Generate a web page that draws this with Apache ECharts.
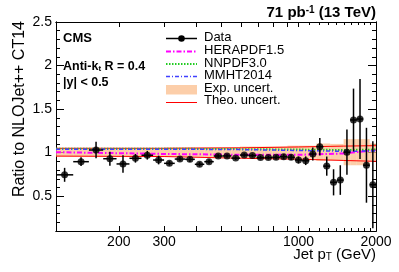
<!DOCTYPE html>
<html><head><meta charset="utf-8">
<script src="https://cdn.jsdelivr.net/npm/echarts@6/dist/echarts.min.js"></script>
<style>html,body{margin:0;padding:0;background:#fff}#c{width:399px;height:272px}</style>
</head><body><div id="c"></div>
<script>
// ---- data ----
const binEdges = [114,133,153,174,196,220,245,272,300,330,362,395,430,468,507,548,592,638,686,737,790,846,905,967,1032,1101,1172,1248,1327,1410,1497,1588,1684,1784,1890,2000];
const dataRatio = [0.745,0.896,1.03,0.93,0.87,0.935,0.97,0.915,0.877,0.926,0.923,0.866,0.896,0.961,0.962,0.937,0.972,0.966,0.943,0.943,0.946,0.953,0.946,0.915,0.907,0.984,1.068,0.845,0.659,0.685,1.005,1.375,1.386,0.855,0.632];
const dataErr = [0.08,0.05,0.095,0.08,0.1,0.05,0.05,0.05,0.025,0.025,0.03,0.025,0.025,0.02,0.02,0.02,0.02,0.02,0.02,0.02,0.025,0.03,0.03,0.04,0.05,0.075,0.1,0.11,0.15,0.17,0.26,0.36,0.46,0.43,0.5];
const expErr = [0.05,0.05,0.05,0.05,0.05,0.05,0.05,0.05,0.055,0.055,0.055,0.055,0.055,0.055,0.055,0.055,0.065,0.065,0.065,0.065,0.065,0.065,0.075,0.075,0.075,0.075,0.1,0.1,0.095,0.095,0.15,0.15,0.15,0.15,0.1];
const curvePt = [114,300,600,1000,1500,2000];
const herapdf = [1.005,0.985,0.975,0.975,0.99,1.03];
const nnpdf = [1.045,1.045,1.04,1.035,1.03,1.035];
const mmht = [1.04,1.04,1.035,1.025,1.015,1.02];
const theoUp = [1.05,1.05,1.055,1.065,1.075,1.08];
const theoDn = [0.96,0.955,0.935,0.925,0.91,0.9];
const xLabelVals = [200,300,1000,2000];
const xMajorTicks = [200,300,400,500,600,700,800,900,1000,2000];
const xMinorTicks = [1100,1200,1300,1400,1500,1600,1700,1800,1900];
const yLabelVals = [0.5,1,1.5,2,2.5];
const yMinorTicks = [0.1,0.2,0.3,0.4,0.6,0.7,0.8,0.9,1.1,1.2,1.3,1.4,1.6,1.7,1.8,1.9,2.1,2.2,2.3,2.4];

// ---- build ----
const FONT = 'Liberation Sans, Arial, Helvetica, sans-serif';
const centers = binEdges.slice(0,-1).map((e,i)=>Math.sqrt(e*binEdges[i+1]));
const bandData = expErr.map((e,i)=>[binEdges[i],binEdges[i+1],1-e+0.005,1+e+0.005]);
const errData = dataRatio.map((v,i)=>[centers[i],v,dataErr[i],binEdges[i],binEdges[i+1]]);
const ptsData = dataRatio.map((v,i)=>[centers[i],v]);
const zip = arr => curvePt.map((p,i)=>[p,arr[i]]);

function xAxisDef(pos, ticks, len, labels){
  return {type:'log', min:114, max:2000, position:pos, gridIndex:0,
    axisLine:{show:true,onZero:false,lineStyle:{color:'#000',width:1}},
    axisTick:{show:true,inside:true,length:len,customValues:ticks,lineStyle:{color:'#000',width:1}},
    axisLabel:labels?{show:true,customValues:xLabelVals,fontSize:14,color:'#000',fontFamily:FONT,margin:4,
      formatter:v=>String(Math.round(v))}:{show:false},
    splitLine:{show:false}, minorTick:{show:false}};
}
function yAxisDef(pos, ticks, len, labels){
  return {type:'value', min:0.1, max:2.5, position:pos, gridIndex:0,
    axisLine:{show:true,onZero:false,lineStyle:{color:'#000',width:1}},
    axisTick:{show:true,inside:true,length:len,customValues:ticks,lineStyle:{color:'#000',width:1}},
    axisLabel:labels?{show:true,customValues:yLabelVals,fontSize:14,color:'#000',fontFamily:FONT,margin:4}:{show:false},
    splitLine:{show:false}};
}

const chart = echarts.init(document.getElementById('c'), null, {renderer:'canvas'});
const legX0 = 166, legX1 = 197, legTx = 204;
chart.setOption({
  animation:false,
  backgroundColor:'#fff',
  grid:{left:56,right:23,top:22,bottom:41,containLabel:false},
  xAxis:[xAxisDef('bottom',xMajorTicks,5,true), xAxisDef('bottom',xMinorTicks,3,false),
         xAxisDef('top',xMajorTicks,5,false), xAxisDef('top',xMinorTicks,3,false)],
  yAxis:[yAxisDef('left',yLabelVals,8,true), yAxisDef('left',yMinorTicks,4,false),
         yAxisDef('right',yLabelVals,8,false), yAxisDef('right',yMinorTicks,4,false)],
  series:[
    {type:'custom', name:'Exp. uncert.', z:1, data:bandData, encode:{x:[0,1],y:[2,3]},
      renderItem(params, api){
        const p1 = api.coord([api.value(0), api.value(3)]);
        const p2 = api.coord([api.value(1), api.value(2)]);
        return {type:'rect', shape:{x:p1[0],y:p1[1],width:p2[0]-p1[0],height:p2[1]-p1[1]},
          style:{fill:'rgba(251,190,140,0.75)'}};
      }},
    {type:'line', name:'Theo up', z:2, data:zip(theoUp), showSymbol:false, lineStyle:{color:'#ff0000',width:1}},
    {type:'line', name:'Theo dn', z:2, data:zip(theoDn), showSymbol:false, lineStyle:{color:'#ff0000',width:1}},
    {type:'line', name:'HERAPDF1.5', z:3, data:zip(herapdf), showSymbol:false, lineStyle:{color:'#ff00ff',width:2,type:[5,2,1.5,2]}},
    {type:'line', name:'NNPDF3.0', z:3, data:zip(nnpdf), showSymbol:false, lineStyle:{color:'#22cc22',width:2,type:[1.5,1.5]}},
    {type:'line', name:'MMHT2014', z:3, data:zip(mmht), showSymbol:false, lineStyle:{color:'#4040ff',width:1.5,type:[4,2,1,2]}},
    {type:'custom', name:'Data err', z:4, data:errData, encode:{x:0,y:1},
      renderItem(params, api){
        const x = api.value(0), y = api.value(1), e = api.value(2);
        const a = api.coord([x, y-e]), b = api.coord([x, y+e]);
        const l = api.coord([api.value(3), y]), r = api.coord([api.value(4), y]);
        const st = {stroke:'#000', lineWidth:1.5};
        return {type:'group', children:[
          {type:'line', shape:{x1:a[0],y1:a[1],x2:b[0],y2:b[1]}, style:st},
          {type:'line', shape:{x1:l[0],y1:l[1],x2:r[0],y2:r[1]}, style:st}
        ]};
      }},
    {type:'scatter', name:'Data', z:5, data:ptsData, symbol:'circle', symbolSize:7, itemStyle:{color:'#000'}}
  ],
  graphic:[
    {type:'text', x:376, y:13, style:{text:'{b|71 pb}{s|-1}{b| (13 TeV)}', align:'right', verticalAlign:'middle',
      rich:{b:{fontSize:15,fontWeight:'bold',fontFamily:FONT,fill:'#000',verticalAlign:'bottom'}, s:{fontSize:10,fontWeight:'bold',fontFamily:FONT,fill:'#000',verticalAlign:'top'}}}},
    {type:'text', x:63, y:38.5, style:{text:'CMS', font:'bold 13px '+FONT, fill:'#000', verticalAlign:'middle'}},
    {type:'text', x:63, y:66.5, style:{text:'{b|Anti-k}{s|t}{b| R = 0.4}', verticalAlign:'middle',
      rich:{b:{fontSize:12.5,fontWeight:'bold',fontFamily:FONT,fill:'#000',verticalAlign:'top'}, s:{fontSize:8,fontWeight:'bold',fontFamily:FONT,fill:'#000',verticalAlign:'bottom'}}}},
    {type:'text', x:63, y:83, style:{text:'|y| < 0.5', font:'bold 12.5px '+FONT, fill:'#000', verticalAlign:'middle'}},
    // legend
    {type:'line', shape:{x1:legX0,y1:38.5,x2:legX1,y2:38.5}, style:{stroke:'#000',lineWidth:1.5}},
    {type:'circle', shape:{cx:(legX0+legX1)/2,cy:38.5,r:3.3}, style:{fill:'#000'}},
    {type:'text', x:legTx, y:37, style:{text:'Data', font:'13px '+FONT, fill:'#000', verticalAlign:'middle'}},
    {type:'line', shape:{x1:legX0,y1:51.5,x2:legX1,y2:51.5}, style:{stroke:'#ff00ff',lineWidth:2,lineDash:[5,2,1.5,2]}},
    {type:'text', x:legTx, y:50, style:{text:'HERAPDF1.5', font:'13px '+FONT, fill:'#000', verticalAlign:'middle'}},
    {type:'line', shape:{x1:legX0,y1:64,x2:legX1,y2:64}, style:{stroke:'#22cc22',lineWidth:2,lineDash:[1.5,1.5]}},
    {type:'text', x:legTx, y:63, style:{text:'NNPDF3.0', font:'13px '+FONT, fill:'#000', verticalAlign:'middle'}},
    {type:'line', shape:{x1:legX0,y1:76.5,x2:legX1,y2:76.5}, style:{stroke:'#4040ff',lineWidth:1.5,lineDash:[4,2,1,2]}},
    {type:'text', x:legTx, y:75, style:{text:'MMHT2014', font:'13px '+FONT, fill:'#000', verticalAlign:'middle'}},
    {type:'rect', shape:{x:legX0,y:85,width:legX1-legX0,height:9.5}, style:{fill:'rgba(251,190,140,0.75)'}},
    {type:'text', x:legTx, y:88.5, style:{text:'Exp. uncert.', font:'13px '+FONT, fill:'#000', verticalAlign:'middle'}},
    {type:'line', shape:{x1:legX0,y1:102.5,x2:legX1,y2:102.5}, style:{stroke:'#ff0000',lineWidth:1}},
    {type:'text', x:legTx, y:100.5, style:{text:'Theo. uncert.', font:'13px '+FONT, fill:'#000', verticalAlign:'middle'}},
    // axis titles
    {type:'text', x:20, y:21, rotation:Math.PI/2, style:{text:'Ratio to NLOJet++ CT14', font:'16px '+FONT, fill:'#000', align:'right', verticalAlign:'middle'}},
    {type:'text', x:376, y:255, style:{text:'{a|Jet p}{s|T}{a| (GeV)}', align:'right', verticalAlign:'middle',
      rich:{a:{fontSize:15,fontFamily:FONT,fill:'#000',verticalAlign:'top'}, s:{fontSize:10,fontFamily:FONT,fill:'#000',verticalAlign:'bottom'}}}}
  ]
});
</script></body></html>
